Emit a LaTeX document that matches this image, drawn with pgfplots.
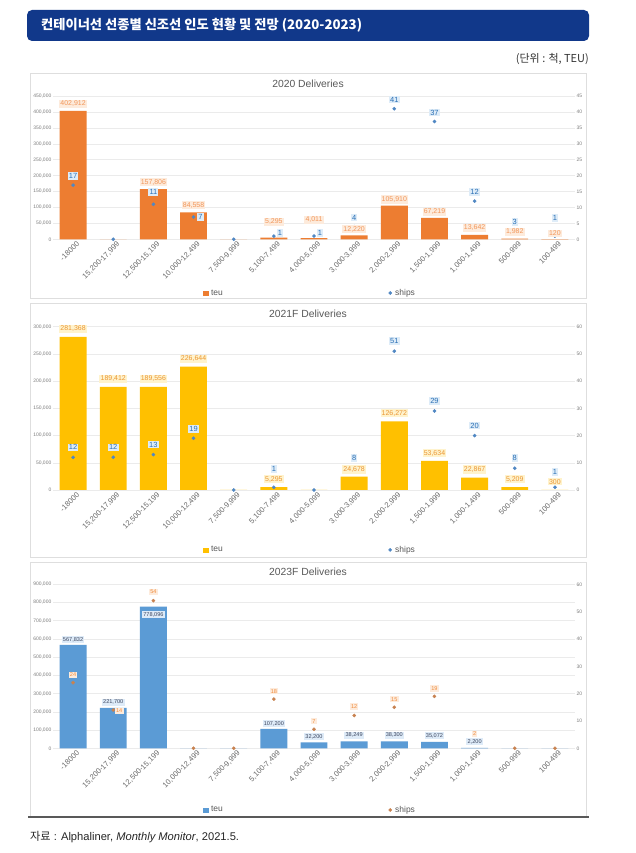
\documentclass[border=0pt]{standalone}
\usepackage{pgfplots}
\pgfplotsset{compat=1.18}
\usepackage{pgfplotstable}
\usepackage{fontspec}
\setmainfont{Liberation Sans}
\newfontfamily\kr{Noto Sans CJK KR}

\definecolor{banner}{RGB}{17,56,138}
\definecolor{barA}{RGB}{237,125,49}
\definecolor{barB}{RGB}{255,192,0}
\definecolor{barC}{RGB}{91,155,213}
\definecolor{dotB}{RGB}{80,135,195}
\definecolor{dotC}{RGB}{200,130,80}
\definecolor{tlabA}{RGB}{242,150,90}
\definecolor{tbgA}{RGB}{253,235,220}
\definecolor{tlabB}{RGB}{235,150,50}
\definecolor{tbgB}{RGB}{255,243,205}
\definecolor{tlabC}{RGB}{60,70,95}
\definecolor{tbgC}{RGB}{222,235,248}
\definecolor{slab}{RGB}{40,110,180}
\definecolor{sbg}{RGB}{222,236,248}
\definecolor{slabC}{RGB}{240,140,60}
\definecolor{sbgC}{RGB}{253,235,220}
\definecolor{gridc}{RGB}{235,235,235}
\definecolor{framec}{RGB}{222,222,222}
\definecolor{numc}{RGB}{125,125,125}
\definecolor{tickc}{RGB}{105,105,105}
\definecolor{titc}{RGB}{89,89,89}

% x teu ships | label offsets (bp) for teu (tdx,tdy) and ships (sdx,sdy)
\pgfplotstableread{
x teu ships tdx tdy sdx sdy
0 402912 17 0 7 0 9
1 0 0 0 7 0 9
2 157806 11 0 7 0 12
3 84558 7 0 7 7 0
4 0 0 0 7 0 9
5 5295 1 0 16 6 3
6 4011 1 0 18 6 3
7 12220 4 0 6 0 9
8 105910 41 0 6 0 9
9 67219 37 0 6 0 9
10 13642 12 0 7 0 9
11 1982 3 0 7 0 8
12 120 1 0 6 0 18
}\dataA

\pgfplotstableread{
x teu ships tdx tdy sdx sdy
0 281368 12 0 8 0 10
1 189412 12 0 8 0 10
2 189556 13 0 8 0 10
3 226644 19 0 8 0 9
4 0 0 0 8 0 10
5 5295 1 0 8 0 18
6 0 0 0 8 0 10
7 24678 8 0 7 0 10
8 126272 51 0 8 0 10
9 53634 29 0 7.5 0 10
10 22867 20 0 8 0 10
11 5209 8 0 8 0 10
12 300 1 0 8 0 15
}\dataB

\pgfplotstableread{
x teu ships tdx tdy sdx sdy
0 567832 24 0 5 0 8
1 221700 14 0 5.5 6 -1
2 778096 54 0 -8 0 9
3 0 0 0 5 0 8
4 0 0 0 5 0 8
5 107200 18 0 5 0 8
6 32200 7 0 5.5 0 8
7 38249 12 0 6 0 9
8 38300 15 0 6 0 8
9 35072 19 0 6 0 8
10 2200 2 0 6 0 9
11 0 0 0 6 0 8
12 0 0 0 6 0 8
}\dataC

\pgfplotsset{
  base/.style={
    scale only axis, width=522bp, xmin=-0.5, xmax=12.5, ymin=0,
    clip=false, anchor=south west,
    axis line style={draw=none},
    major tick style={draw=none}, minor tick style={draw=none},
    scaled y ticks=false,
    yticklabel style={font=\fontsize{5}{6}\selectfont, text=numc, inner sep=1.5bp},
    /pgf/number format/fixed,
    /pgf/number format/precision=0,
    /pgf/number format/1000 sep={,},
    /pgf/number format/assume math mode=true,
  },
  leftax/.style={
    base,
    ymajorgrids, grid style={draw=gridc, line width=0.5bp},
    xtick={0,...,12},
    xticklabels={{-18000},{15,200-17,999},{12,500-15,199},{10,000-12,499},{7,500-9,999},{5,100-7,499},{4,000-5,099},{3,000-3,999},{2,000-2,999},{1,500-1,999},{1,000-1,499},{500-999},{100-499}},
    xticklabel style={xshift=3bp, rotate=45, anchor=north east, font=\fontsize{7.6}{9}\selectfont, text=tickc, inner sep=1bp},
    legend style={draw=none, fill=none, font=\fontsize{8.5}{10}\selectfont, text=titc,
      legend columns=2, /tikz/every even column/.append style={column sep=164bp},
      nodes={inner sep=1.5bp}},
    legend cell align=left,
  },
  rightax/.style={
    base, axis y line*=right, axis x line=none,
  },
  topax/.style={base, hide axis},
  lab/.style n args={4}{
    forget plot, draw=none, mark=none,
    nodes near coords, point meta=y,
    y filter/.expression={y==0 ? nan : y},
    visualization depends on={\thisrow{#1}\as\ldx},
    visualization depends on={\thisrow{#2}\as\ldy},
    nodes near coords style={anchor=center, xshift=\ldx bp, yshift=\ldy bp,
      text=#3, fill=#4, inner sep=1.2bp},
  },
  sqleg/.style={legend image code/.code={\fill[#1] (0bp,-2.2bp) rectangle (4.4bp,2.2bp); \path (6bp,0bp);}},
  dotleg/.style={legend image code/.code={\fill[#1] (2.2bp,0bp) circle (1.6bp); \path (5.5bp,0bp);}},
}

\begin{document}
\begin{tikzpicture}[x=1bp, y=1bp]
\path[fill=white] (0,0) rectangle (636,853);

% banner
\fill[banner, rounded corners=5bp] (27,812) rectangle (589,843);
\node[anchor=west, text=white, font=\kr\bfseries\fontsize{13.3}{15}\selectfont, inner sep=0pt] at (41,827.5) {컨테이너선 선종별 신조선 인도 현황 및 전망 (2020-2023)};
\node[anchor=east, text=black!80, font=\kr\fontsize{11}{12}\selectfont, inner sep=0pt] at (589,794) {(단위 : 척, TEU)};

% panel frames
\draw[framec, line width=0.5bp] (30,555) rectangle (586,780);
\draw[framec, line width=0.5bp] (30,296) rectangle (586,550);
\draw[framec, line width=0.5bp] (30,36) -- (30,291) -- (586,291) -- (586,36);
\draw[black!65, line width=1.4bp] (28,36) -- (589,36);

% panel titles
\node[text=titc, font=\fontsize{10.4}{12}\selectfont] at (308,769) {2020 Deliveries};
\node[text=titc, font=\fontsize{10.4}{12}\selectfont] at (308,539) {2021F Deliveries};
\node[text=titc, font=\fontsize{10.4}{12}\selectfont] at (308,281) {2023F Deliveries};

% source
\node[anchor=west, inner sep=0pt, text=black!85, font=\fontsize{11.2}{13}\selectfont] at (30,16) {{\kr 자료} : Alphaliner, \textit{Monthly Monitor}, 2021.5.};

% ---------- 2020 ----------
\begin{axis}[leftax, at={(53bp,613.7bp)}, height=143.3bp, ymax=450000,
  ytick={0,50000,...,450000},
  legend style={at={(0.492,-0.375)}, anchor=center}]
\addplot[ybar, bar width=0.67, fill=barA, draw=none, forget plot] table[x=x, y=teu]{\dataA};
\addlegendimage{sqleg=barA}
\addlegendentry{teu}
\addlegendimage{dotleg=dotB}
\addlegendentry{ships}
\end{axis}
\begin{axis}[rightax, at={(53bp,613.7bp)}, height=143.3bp, ymax=45, ytick={0,5,...,45}]
\addplot[only marks, mark=*, mark size=1.6bp, color=dotB] table[x=x, y=ships]{\dataA};
\addplot[lab={sdx}{sdy}{slab}{sbg}, nodes near coords style={font=\fontsize{7.5}{8}\selectfont}] table[x=x, y=ships]{\dataA};
\end{axis}
\begin{axis}[topax, at={(53bp,613.7bp)}, height=143.3bp, ymax=450000]
\addplot[lab={tdx}{tdy}{tlabA}{tbgA}, nodes near coords style={font=\fontsize{7}{8}\selectfont}] table[x=x, y=teu]{\dataA};
\end{axis}

% ---------- 2021F ----------
\begin{axis}[leftax, at={(53bp,363bp)}, height=163.3bp, ymax=300000,
  ytick={0,50000,...,300000},
  legend style={at={(0.492,-0.367)}, anchor=center}]
\addplot[ybar, bar width=0.67, fill=barB, draw=none, forget plot] table[x=x, y=teu]{\dataB};
\addlegendimage{sqleg=barB}
\addlegendentry{teu}
\addlegendimage{dotleg=dotB}
\addlegendentry{ships}
\end{axis}
\begin{axis}[rightax, at={(53bp,363bp)}, height=163.3bp, ymax=60, ytick={0,10,...,60}]
\addplot[only marks, mark=*, mark size=1.6bp, color=dotB] table[x=x, y=ships]{\dataB};
\addplot[lab={sdx}{sdy}{slab}{sbg}, nodes near coords style={font=\fontsize{7.5}{8}\selectfont}] table[x=x, y=ships]{\dataB};
\end{axis}
\begin{axis}[topax, at={(53bp,363bp)}, height=163.3bp, ymax=300000]
\addplot[lab={tdx}{tdy}{tlabB}{tbgB}, nodes near coords style={font=\fontsize{7}{8}\selectfont}] table[x=x, y=teu]{\dataB};
\end{axis}

% ---------- 2023F ----------
\begin{axis}[leftax, at={(53bp,104.7bp)}, height=164bp, ymax=900000,
  ytick={0,100000,...,900000},
  legend style={at={(0.492,-0.376)}, anchor=center}]
\addplot[ybar, bar width=0.67, fill=barC, draw=none, forget plot] table[x=x, y=teu]{\dataC};
\addlegendimage{sqleg=barC}
\addlegendentry{teu}
\addlegendimage{dotleg=dotC}
\addlegendentry{ships}
\end{axis}
\begin{axis}[rightax, at={(53bp,104.7bp)}, height=164bp, ymax=60, ytick={0,10,...,60}]
\addplot[only marks, mark=*, mark size=1.6bp, color=dotC] table[x=x, y=ships]{\dataC};
\addplot[lab={sdx}{sdy}{slabC}{sbgC}, nodes near coords style={font=\fontsize{5.6}{6}\selectfont}] table[x=x, y=ships]{\dataC};
\end{axis}
\begin{axis}[topax, at={(53bp,104.7bp)}, height=164bp, ymax=900000]
\addplot[lab={tdx}{tdy}{tlabC}{tbgC}, nodes near coords style={font=\fontsize{5.6}{6}\selectfont}] table[x=x, y=teu]{\dataC};
\end{axis}
\end{tikzpicture}
\end{document}
